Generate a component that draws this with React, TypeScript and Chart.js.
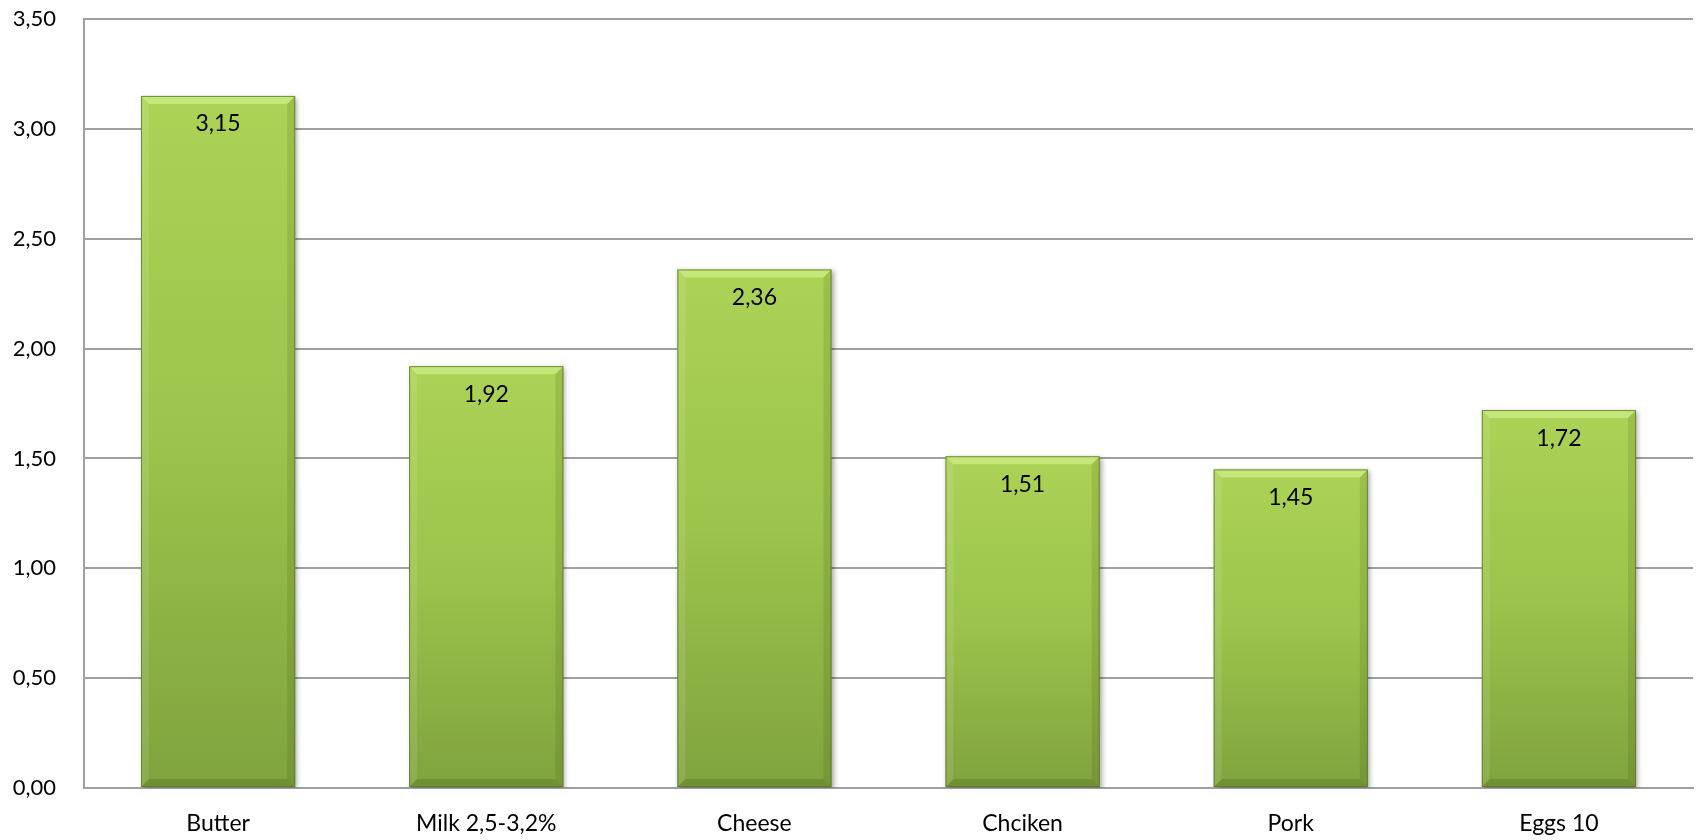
import React, { useEffect, useRef } from "react";
import { Chart, registerables } from "chart.js";

Chart.register(...registerables);

const categories: string[] = ["Butter", "Milk 2,5-3,2%", "Cheese", "Chciken", "Pork", "Eggs 10"];
const prices: number[] = [3.15, 1.92, 2.36, 1.51, 1.45, 1.72];
const yTickValues: number[] = [0, 0.5, 1, 1.5, 2, 2.5, 3, 3.5];

const FONT = "Lato, 'Noto Sans', sans-serif";
const fmt = (v: number) => v.toFixed(2).replace(".", ",");

const bevelPlugin = {
  id: "bevelLabels",
  afterDatasetsDraw(chart: any) {
    const ctx = chart.ctx;
    const meta = chart.getDatasetMeta(0);
    meta.data.forEach((bar: any, i: number) => {
      const { x, y, width, base } = bar.getProps(["x", "y", "width", "base"], true);
      const l = x - width / 2;
      const r = x + width / 2;
      const t = y;
      const b = base;
      const s = 8;
      ctx.save();
      ctx.fillStyle = "rgba(230,255,170,0.45)";
      ctx.beginPath();
      ctx.moveTo(l, t); ctx.lineTo(r, t); ctx.lineTo(r - s, t + s); ctx.lineTo(l + s, t + s); ctx.closePath(); ctx.fill();
      ctx.fillStyle = "rgba(255,255,255,0.10)";
      ctx.beginPath();
      ctx.moveTo(l, t); ctx.lineTo(l + s, t + s); ctx.lineTo(l + s, b - s); ctx.lineTo(l, b); ctx.closePath(); ctx.fill();
      ctx.fillStyle = "rgba(40,60,0,0.12)";
      ctx.beginPath();
      ctx.moveTo(r, t); ctx.lineTo(r - s, t + s); ctx.lineTo(r - s, b - s); ctx.lineTo(r, b); ctx.closePath(); ctx.fill();
      ctx.fillStyle = "rgba(40,60,0,0.18)";
      ctx.beginPath();
      ctx.moveTo(l, b); ctx.lineTo(l + s, b - s); ctx.lineTo(r - s, b - s); ctx.lineTo(r, b); ctx.closePath(); ctx.fill();
      ctx.strokeStyle = "rgba(90,120,40,0.8)";
      ctx.lineWidth = 1;
      ctx.strokeRect(l + 0.5, t + 0.5, width - 1, b - t - 1);
      ctx.fillStyle = "#000";
      ctx.font = `23px ${FONT}`;
      ctx.textAlign = "center";
      ctx.textBaseline = "middle";
      ctx.fillText(fmt(prices[i]), x, t + 28);
      ctx.restore();
    });
  },
};

const shadowPlugin = {
  id: "barShadow",
  beforeDatasetsDraw(chart: any) {
    const ctx = chart.ctx;
    ctx.save();
    ctx.shadowColor = "rgba(0,0,0,0.35)";
    ctx.shadowBlur = 5;
    ctx.shadowOffsetX = 2;
    ctx.shadowOffsetY = 2;
  },
  afterDatasetsDraw(chart: any) {
    chart.ctx.restore();
  },
};

export default function App() {
  const ref = useRef<HTMLCanvasElement>(null);
  useEffect(() => {
    document.body.style.margin = "0";
    const canvas = ref.current!;
    const chart = new Chart(canvas, {
      type: "bar",
      data: {
        labels: categories,
        datasets: [
          {
            data: prices,
            backgroundColor: (c: any) => {
              const ch = c.chart;
              const ys = ch.scales?.y;
              if (!ys || c.dataIndex === undefined) return "#96bd4a";
              const top = ys.getPixelForValue(prices[c.dataIndex]);
              const bot = ys.getPixelForValue(0);
              if (!isFinite(top) || !isFinite(bot) || top === bot) return "#96bd4a";
              const g = ch.ctx.createLinearGradient(0, top, 0, bot);
              g.addColorStop(0, "#acd356");
              g.addColorStop(0.5, "#9cc34b");
              g.addColorStop(1, "#80a33e");
              return g;
            },
            borderWidth: 0,
            barPercentage: 0.575,
            categoryPercentage: 1,
          },
        ],
      },
      options: {
        animation: false,
        responsive: false,
        maintainAspectRatio: false,
        layout: { padding: { left: 0, right: 5, top: 19, bottom: 0 } },
        plugins: { legend: { display: false }, tooltip: { enabled: false } },
        scales: {
          x: {
            grid: { display: false, drawTicks: false },
            border: { display: true, color: "#a0a0a0", width: 2 },
            ticks: { color: "#000", font: { family: FONT, size: 23 }, padding: 22, maxRotation: 0 },
            afterFit: (s: any) => {
              s.height = 52;
              s.paddingLeft = 0;
              s.paddingRight = 0;
            },
          },
          y: {
            min: 0,
            max: 3.5,
            afterBuildTicks: (s: any) => { s.ticks = yTickValues.map((v) => ({ value: v })); },
            grid: { color: "#a0a0a0", lineWidth: 2, drawTicks: false },
            border: { display: true, color: "#a0a0a0", width: 2 },
            ticks: {
              color: "#000",
              font: { family: FONT, size: 22 },
              padding: 28,
              callback: (v: any) => fmt(Number(v)),
            },
            afterFit: (s: any) => {
              s.width = 84;
              s.paddingTop = 0;
              s.paddingBottom = 0;
            },
          },
        },
      },
      plugins: [shadowPlugin, bevelPlugin],
    });
    return () => chart.destroy();
  }, []);
  return (
    <div style={{ width: 1698, height: 840, background: "#fff" }}>
      <canvas ref={ref} width={1698} height={840} style={{ display: "block", width: 1698, height: 840 }} />
    </div>
  );
}
